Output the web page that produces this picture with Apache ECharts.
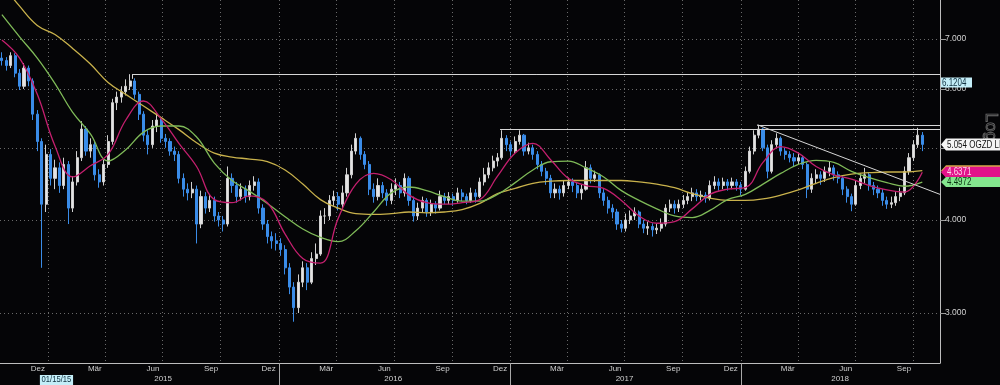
<!DOCTYPE html>
<html><head><meta charset="utf-8">
<script src="https://cdn.jsdelivr.net/npm/echarts@6/dist/echarts.min.js"></script>
<style>html,body{margin:0;padding:0;background:#050507;}#c{width:1000px;height:385px;}</style>
</head><body><div id="c"></div>
<script>
// ---------- DATA ----------
// weekly candles [open, close, low, high], first week starting 2014-10-20
const ohlc = [
[6.60,6.55,6.45,6.72],[6.55,6.45,6.35,6.62],[6.45,6.65,6.40,6.72],[6.65,6.30,6.22,6.70],[6.30,6.05,5.98,6.38],
[6.05,6.40,6.00,6.50],[6.40,6.15,6.05,6.45],[6.15,5.55,5.45,6.20],[5.55,5.10,4.95,5.62],[5.10,4.20,3.45,5.15],
[4.20,4.90,4.10,5.05],[4.90,4.55,4.45,4.98],[4.55,4.70,4.40,4.82],[4.70,4.45,4.35,4.78],[4.45,4.75,4.40,4.85],
[4.75,4.15,3.95,4.80],[4.15,4.50,4.10,4.58],[4.50,4.85,4.45,4.95],[4.85,5.30,4.80,5.43],[5.30,4.95,4.88,5.35],
[4.95,5.05,4.85,5.15],[5.05,4.60,4.52,5.10],[4.60,4.50,4.42,4.68],[4.50,4.75,4.45,4.82],[4.75,5.10,4.70,5.20],
[5.10,5.75,5.05,5.82],[5.75,5.85,5.62,5.95],[5.85,5.95,5.75,6.05],[5.95,6.05,5.88,6.18],[6.05,6.15,5.98,6.28],
[6.15,5.90,5.82,6.20],[5.90,5.55,5.45,5.95],[5.55,5.20,5.10,5.60],[5.20,5.05,4.90,5.28],[5.05,5.35,5.00,5.45],
[5.35,5.45,5.25,5.56],[5.45,5.15,5.08,5.50],[5.15,5.10,5.00,5.22],[5.10,4.95,4.88,5.15],[4.95,4.90,4.80,5.02],
[4.90,4.55,4.48,4.95],[4.55,4.40,4.30,4.62],[4.40,4.35,4.25,4.48],[4.35,4.40,4.28,4.50],[4.40,3.95,3.72,4.45],
[3.95,4.30,3.90,4.38],[4.30,4.15,4.08,4.36],[4.15,4.25,4.10,4.32],[4.25,4.05,3.98,4.30],[4.05,4.00,3.92,4.10],
[4.00,3.95,3.86,4.05],[3.95,4.55,3.92,4.72],[4.55,4.45,4.35,4.62],[4.45,4.30,4.22,4.50],[4.30,4.40,4.25,4.48],
[4.40,4.30,4.22,4.45],[4.30,4.45,4.25,4.52],[4.45,4.50,4.38,4.58],[4.50,4.15,4.08,4.55],[4.15,3.95,3.88,4.20],
[3.95,3.80,3.72,4.00],[3.80,3.75,3.66,3.86],[3.75,3.72,3.64,3.84],[3.72,3.65,3.58,3.78],[3.65,3.45,3.38,3.70],
[3.45,3.25,3.18,3.50],[3.25,3.05,2.92,3.30],[3.05,3.30,3.00,3.38],[3.30,3.45,3.25,3.52],[3.45,3.30,3.22,3.50],
[3.30,3.55,3.28,3.62],[3.55,3.60,3.48,3.72],[3.60,4.05,3.58,4.12],[4.05,4.05,3.95,4.15],[4.05,4.25,4.00,4.32],
[4.25,4.30,4.18,4.38],[4.30,4.20,4.12,4.36],[4.20,4.35,4.15,4.45],[4.35,4.60,4.30,4.70],[4.60,4.95,4.55,5.05],
[4.95,5.15,4.90,5.23],[5.15,4.90,4.82,5.18],[4.90,4.75,4.68,4.95],[4.75,4.40,4.32,4.80],[4.40,4.30,4.22,4.48],
[4.30,4.45,4.25,4.55],[4.45,4.35,4.28,4.50],[4.35,4.25,4.18,4.40],[4.25,4.40,4.20,4.48],[4.40,4.45,4.32,4.55],
[4.45,4.35,4.28,4.50],[4.35,4.55,4.30,4.62],[4.55,4.25,4.18,4.58],[4.25,4.05,3.98,4.30],[4.05,4.15,4.00,4.22],
[4.15,4.25,4.10,4.30],[4.25,4.10,4.04,4.28],[4.10,4.20,4.05,4.26],[4.20,4.15,4.08,4.24],[4.15,4.30,4.12,4.38],
[4.30,4.25,4.20,4.35],[4.25,4.30,4.20,4.36],[4.30,4.25,4.18,4.34],[4.25,4.35,4.22,4.42],[4.35,4.30,4.24,4.40],
[4.30,4.25,4.20,4.34],[4.25,4.35,4.22,4.42],[4.35,4.30,4.22,4.40],[4.30,4.50,4.28,4.56],[4.50,4.60,4.45,4.70],
[4.60,4.70,4.55,4.78],[4.70,4.80,4.65,4.88],[4.80,4.85,4.72,4.92],[4.85,5.15,4.82,5.28],[5.15,5.05,4.95,5.20],
[5.05,4.95,4.88,5.10],[4.95,5.10,4.92,5.18],[5.10,5.20,5.05,5.28],[5.20,4.95,4.88,5.22],[4.95,5.00,4.90,5.08],
[5.00,4.90,4.82,5.05],[4.90,4.75,4.68,4.95],[4.75,4.65,4.58,4.80],[4.65,4.55,4.46,4.70],[4.55,4.35,4.28,4.60],
[4.35,4.40,4.28,4.48],[4.40,4.35,4.26,4.45],[4.35,4.45,4.30,4.52],[4.45,4.50,4.40,4.56],[4.50,4.45,4.36,4.55],
[4.45,4.35,4.28,4.50],[4.35,4.40,4.26,4.46],[4.40,4.70,4.38,4.80],[4.70,4.55,4.48,4.75],[4.55,4.60,4.50,4.66],
[4.60,4.35,4.28,4.62],[4.35,4.25,4.18,4.40],[4.25,4.15,4.08,4.30],[4.15,4.10,4.02,4.20],[4.10,3.95,3.88,4.14],
[3.95,3.90,3.85,4.00],[3.90,4.00,3.86,4.08],[4.00,4.05,3.95,4.12],[4.05,4.10,4.00,4.16],[4.10,3.95,3.90,4.12],
[3.95,3.90,3.84,4.00],[3.90,3.92,3.82,3.98],[3.92,3.88,3.80,3.96],[3.88,3.90,3.83,3.95],[3.90,3.95,3.86,4.02],
[3.95,4.15,3.92,4.20],[4.15,4.20,4.10,4.26],[4.20,4.15,4.08,4.25],[4.15,4.20,4.10,4.26],[4.20,4.25,4.15,4.32],
[4.25,4.30,4.20,4.36],[4.30,4.35,4.24,4.42],[4.35,4.30,4.24,4.40],[4.30,4.32,4.25,4.38],[4.32,4.28,4.22,4.36],
[4.28,4.45,4.25,4.52],[4.45,4.50,4.40,4.58],[4.50,4.45,4.38,4.55],[4.45,4.50,4.40,4.56],[4.50,4.45,4.38,4.54],
[4.45,4.50,4.40,4.56],[4.50,4.45,4.38,4.54],[4.45,4.40,4.32,4.50],[4.40,4.65,4.38,4.72],[4.65,4.95,4.62,5.02],
[4.95,5.20,4.90,5.28],[5.20,5.30,5.15,5.37],[5.30,5.00,4.95,5.32],[5.00,4.65,4.55,5.05],[4.65,5.05,4.62,5.12],
[5.05,5.15,5.00,5.23],[5.15,4.95,4.88,5.18],[4.95,4.90,4.82,5.00],[4.90,4.85,4.78,4.95],[4.85,4.80,4.72,4.92],
[4.80,4.85,4.75,4.92],[4.85,4.75,4.68,4.88],[4.75,4.40,4.28,4.78],[4.40,4.55,4.35,4.62],[4.55,4.60,4.48,4.68],
[4.60,4.55,4.46,4.65],[4.55,4.65,4.50,4.72],[4.65,4.70,4.58,4.80],[4.70,4.60,4.52,4.74],[4.60,4.55,4.48,4.65],
[4.55,4.40,4.32,4.58],[4.40,4.30,4.22,4.44],[4.30,4.20,4.11,4.34],[4.20,4.45,4.18,4.52],[4.45,4.55,4.40,4.62],
[4.55,4.60,4.48,4.70],[4.60,4.45,4.38,4.64],[4.45,4.40,4.32,4.50],[4.40,4.35,4.28,4.45],[4.35,4.25,4.18,4.40],
[4.25,4.20,4.14,4.30],[4.20,4.22,4.15,4.30],[4.22,4.30,4.18,4.36],[4.30,4.35,4.24,4.42],[4.35,4.65,4.32,4.72],
[4.65,4.85,4.60,4.92],[4.85,5.05,4.80,5.12],[5.05,5.20,5.00,5.32],[5.20,5.054,4.95,5.25]
];
// moving averages, sampled every 4 weeks (week 0, 4, 8, ... 208)
const maMagenta = [6.98,6.6,5.9,5.03,4.57,4.73,4.9,5.45,5.78,5.47,5.07,4.72,4.26,4.22,4.31,4.22,3.83,3.55,3.5,4.02,4.47,4.62,4.53,4.32,4.22,4.2,4.22,4.26,4.58,4.92,5.07,4.82,4.55,4.45,4.41,4.25,4.05,3.96,3.98,4.14,4.33,4.4,4.42,4.78,5.02,4.92,4.72,4.6,4.54,4.45,4.39,4.36,4.6371];
const maGreen = [7.55,7.05,6.6,6.1,5.58,5.22,4.8,4.97,5.25,5.35,5.35,5.17,4.77,4.52,4.37,4.21,4.04,3.89,3.79,3.74,3.87,4.1,4.35,4.43,4.38,4.3,4.24,4.24,4.33,4.49,4.67,4.79,4.8,4.7,4.57,4.38,4.25,4.14,4.05,4.03,4.12,4.26,4.33,4.47,4.62,4.75,4.81,4.78,4.65,4.56,4.49,4.44,4.4972];
const maYellow = [8.3,7.75,7.3,7.1,6.8,6.48,6.12,5.9,5.69,5.49,5.29,5.08,4.92,4.86,4.83,4.79,4.67,4.47,4.26,4.15,4.08,4.07,4.08,4.1,4.09,4.1,4.13,4.21,4.34,4.41,4.48,4.51,4.52,4.52,4.52,4.52,4.5,4.47,4.42,4.34,4.28,4.25,4.25,4.27,4.32,4.39,4.48,4.56,4.61,4.63,4.64,4.64,4.66];
const yTickValues = [3, 4, 5, 6, 7];
const monthNames = ['Jan','Feb','Mär','Apr','Mai','Jun','Jul','Aug','Sep','Okt','Nov','Dez'];
// horizontal resistance levels: [start date, level]
const resLevels = [['2015-05-14', 6.28], ['2016-12-16', 5.29], ['2018-01-27', 5.37]];
// down trend line: [start date, level] -> [end date, level]
const trendLine = [['2018-01-27', 5.37], ['2018-11-12', 4.33]];
// right side value tags
const tagValues = { line: 6.1204, last: 5.054, magenta: 4.6371, green: 4.4972, yellow: 4.66 };
const ticker = 'OGZD LI';
const cursorDate = '2015-01-15';
const cursorText = '01/15/15';

// ---------- HELPERS ----------
const D = (y, m, d) => new Date(y, m - 1, d).getTime();
const P = s => { const a = s.split('-').map(Number); return D(a[0], a[1], a[2]); };
const weekTs = i => new Date(2014, 9, 20 + 7 * i).getTime();
const tMin = D(2014, 10, 17), tMax = D(2018, 11, 12);
const quarterStarts = [], monthMids = [];
for (let y = 2015; y <= 2018; y++) [1, 4, 7, 10].forEach(m => quarterStarts.push(D(y, m, 1)));
monthMids.push(D(2014, 12, 16));
for (let y = 2015; y <= 2018; y++) [3, 6, 9, 12].forEach(m => { if (!(y === 2018 && m === 12)) monthMids.push(D(y, m, 16)); });
const yearStarts = [D(2016,1,1), D(2017,1,1), D(2018,1,1)];
const yearMids = [D(2015,7,2), D(2016,6,30), D(2017,7,1), D(2018,6,7)];
const FONT = "'Liberation Sans', Arial, sans-serif";

const candleData = ohlc.map((r, i) => [weekTs(i), r[0], r[1], r[2], r[3]]);
const maSeries = arr => arr.map((v, k) => [weekTs(k * 4), v]);

const lineStyleW = { color: '#d6d6d6', width: 1, type: 'solid' };
const markData = resLevels.map(r => [{ coord: [P(r[0]), r[1]] }, { coord: [tMax, r[1]] }]);
markData.push([{ coord: [P(resLevels[0][0]), resLevels[0][1]] }, { coord: [P(resLevels[0][0]), 6.19] }]);
markData.push([{ coord: [P(trendLine[0][0]), trendLine[0][1]] }, { coord: [P(trendLine[1][0]), trendLine[1][1]] }]);

const gridLine = { color: '#6a6a6a', width: 1, type: [1, 3] };
const option = {
  backgroundColor: '#050507',
  animation: false,
  grid: { left: 0, right: 60, top: 0, bottom: 22, containLabel: false },
  xAxis: [{
    type: 'value', min: tMin, max: tMax, position: 'bottom', scale: true,
    axisLine: { show: true, onZero: false, lineStyle: { color: '#bdbdbd', width: 1 } },
    axisTick: { show: false, customValues: quarterStarts },
    splitLine: { show: true, lineStyle: gridLine },
    axisLabel: { customValues: monthMids, formatter: v => monthNames[new Date(v).getMonth()],
      color: '#cfcfcf', fontSize: 8, fontFamily: FONT, margin: 2, hideOverlap: false }
  }, {
    type: 'value', min: tMin, max: tMax, position: 'bottom', scale: true,
    axisLine: { show: false, onZero: false },
    axisTick: { show: true, customValues: yearStarts, length: 22, lineStyle: { color: '#a8a8a8', width: 1 } },
    splitLine: { show: false },
    axisLabel: { customValues: yearMids, formatter: v => String(new Date(v).getFullYear()),
      color: '#cfcfcf', fontSize: 8, fontFamily: FONT, margin: 12, hideOverlap: false }
  }],
  yAxis: {
    type: 'log', logBase: 10, position: 'right', min: 2.57, max: 7.9,
    axisLine: { show: true, onZero: false, lineStyle: { color: '#bdbdbd', width: 1 } },
    axisTick: { show: true, customValues: yTickValues, length: 6, lineStyle: { color: '#9a9a9a' } },
    splitLine: { show: true, lineStyle: gridLine },
    axisLabel: { customValues: yTickValues, formatter: v => Number(v).toFixed(3),
      color: '#d2d2d2', fontSize: 8.5, fontFamily: FONT, margin: 5 }
  },
  series: [{
    type: 'candlestick', data: candleData, barWidth: 2.6,
    itemStyle: { color: '#e4e4e4', color0: '#3a8ce8', borderColor: '#d0d0d0', borderColor0: '#3a8ce8', borderWidth: 1 },
    z: 2
  }, {
    type: 'line', data: maSeries(maYellow), smooth: 0.4, symbol: 'none',
    lineStyle: { color: '#c9b24c', width: 1.3 }, z: 3
  }, {
    type: 'line', data: maSeries(maGreen), smooth: 0.4, symbol: 'none',
    lineStyle: { color: '#7fba58', width: 1.3 }, z: 3
  }, {
    type: 'line', data: maSeries(maMagenta), smooth: 0.4, symbol: 'none',
    lineStyle: { color: '#c41f6e', width: 1.3 }, z: 4,
    markLine: { silent: true, symbol: 'none', label: { show: false }, lineStyle: lineStyleW,
      emphasis: { disabled: true }, data: markData, z: 5 }
  }]
};

const chart = echarts.init(document.getElementById('c'), null, { renderer: 'canvas' });
chart.setOption(option);

// value tags on the right, placed through the y scale
const yPix = v => chart.convertToPixel({ yAxisIndex: 0 }, v);
const tagDefs = [
  { v: tagValues.line, text: tagValues.line.toFixed(4), bg: '#c4eef8', fg: '#10303f', h: 10, arrow: false, x1: 972 },
  { v: tagValues.last, text: tagValues.last.toFixed(3) + ' ' + ticker, bg: '#f4f4f4', fg: '#111', h: 12, arrow: true, x1: 1000 },
  { v: tagValues.yellow, text: '', bg: '#d9a94a', fg: '#000', h: 11, arrow: true, x1: 1000 },
  { v: tagValues.magenta, text: tagValues.magenta.toFixed(4), bg: '#e2138a', fg: '#ffd8ee', h: 11, arrow: true, x1: 1000 },
  { v: tagValues.green, text: tagValues.green.toFixed(4), bg: '#84e68e', fg: '#0c3314', h: 10, arrow: true, x1: 1000 }
];
const els = [];
let z = 100;
tagDefs.forEach(t => {
  const y = yPix(t.v), h = t.h, x0 = 941;
  const pts = t.arrow
    ? [[x0, y], [x0 + 5, y - h / 2], [t.x1, y - h / 2], [t.x1, y + h / 2], [x0 + 5, y + h / 2]]
    : [[x0, y - h / 2], [t.x1, y - h / 2], [t.x1, y + h / 2], [x0, y + h / 2]];
  els.push({ type: 'polygon', shape: { points: pts }, style: { fill: t.bg }, z: z++, silent: true });
  if (t.text) els.push({ type: 'text', x: x0 + (t.arrow ? 6 : 1), y: y + 0.5, scaleX: 0.8, z: z++, silent: true,
    style: { text: t.text, fill: t.fg, font: '10px ' + FONT, align: 'left', verticalAlign: 'middle' } });
});
els.push({ type: 'text', x: 991, y: 127, rotation: -Math.PI / 2, silent: true, z: 90,
  style: { text: 'Log', fill: 'rgba(0,0,0,0)', stroke: '#707070', lineWidth: 0.8, font: '17px ' + FONT, align: 'center', verticalAlign: 'middle' } });
const cx = chart.convertToPixel({ xAxisIndex: 0 }, P(cursorDate));
els.push({ type: 'text', x: cx - 17, y: 380, scaleX: 0.85, silent: true, z: 95,
  style: { text: cursorText, fill: '#10303f', backgroundColor: '#c4eef8', padding: [1, 2, 0, 2], font: '9px ' + FONT, align: 'left', verticalAlign: 'middle' } });
chart.setOption({ graphic: { elements: els } });
</script>
</body></html>
